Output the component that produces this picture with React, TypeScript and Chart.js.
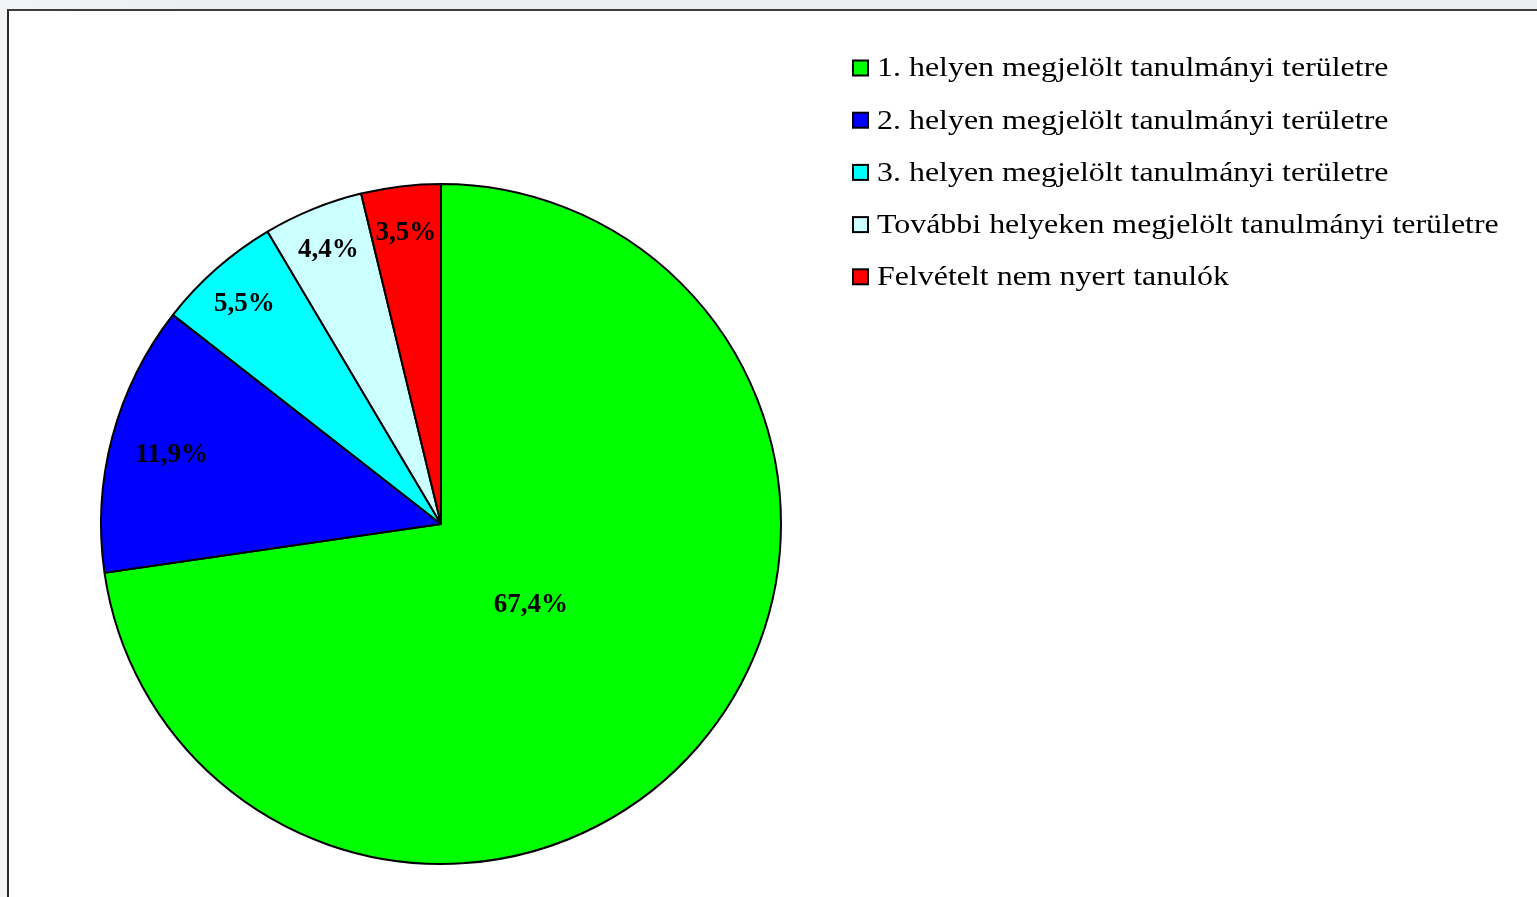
import React, { useEffect, useRef } from "react";
import { Chart, registerables } from "chart.js";

Chart.register(...registerables);

const categories = [
  "1. helyen megjelölt tanulmányi területre",
  "2. helyen megjelölt tanulmányi területre",
  "3. helyen megjelölt tanulmányi területre",
  "További helyeken megjelölt tanulmányi területre",
  "Felvételt nem nyert tanulók",
];
const values = [67.4, 11.9, 5.5, 4.4, 3.5];
const valueLabels = ["67,4%", "11,9%", "5,5%", "4,4%", "3,5%"];
const colors = ["#00ff00", "#0000ff", "#00ffff", "#ccffff", "#ff0000"];
const labelRadiusFactor = [0.35, 0.82, 0.875, 0.88, 0.87];

const sliceLabelsPlugin = {
  id: "sliceLabels",
  afterDatasetsDraw(chart: any) {
    const ctx = chart.ctx;
    const meta = chart.getDatasetMeta(0);
    ctx.save();
    ctx.font = "bold 27px 'Liberation Serif', 'Times New Roman', serif";
    ctx.fillStyle = "#000";
    ctx.textAlign = "center";
    ctx.textBaseline = "middle";
    meta.data.forEach((arc: any, i: number) => {
      const { x, y, startAngle, endAngle, outerRadius } = arc.getProps(
        ["x", "y", "startAngle", "endAngle", "outerRadius"],
        true
      );
      const mid = (startAngle + endAngle) / 2;
      const r = outerRadius * labelRadiusFactor[i];
      ctx.fillText(valueLabels[i], x + Math.cos(mid) * r, y + Math.sin(mid) * r + 3);
    });
    ctx.restore();
  },
};

const legendPlugin = {
  id: "customLegend",
  afterDraw(chart: any) {
    const ctx = chart.ctx;
    const labels = chart.data.labels as string[];
    const bg = chart.data.datasets[0].backgroundColor as string[];
    const x0 = 844;
    const y0 = 57;
    const step = 52.2;
    const scaleX = 1.14;
    ctx.save();
    ctx.font = "28px 'Liberation Serif', 'Times New Roman', serif";
    ctx.textBaseline = "middle";
    ctx.textAlign = "left";
    labels.forEach((lab, i) => {
      const cy = y0 + i * step;
      ctx.fillStyle = bg[i];
      ctx.fillRect(x0, cy - 7.5, 15, 15);
      ctx.lineWidth = 2;
      ctx.strokeStyle = "#000";
      ctx.strokeRect(x0, cy - 7.5, 15, 15);
      ctx.save();
      ctx.translate(x0 + 24, cy + 1);
      ctx.scale(scaleX, 1);
      ctx.fillStyle = "#000";
      ctx.fillText(lab, 0, 0);
      ctx.restore();
    });
    ctx.restore();
  },
};

export default function App() {
  const ref = useRef<HTMLCanvasElement>(null);
  useEffect(() => {
    if (!ref.current) return;
    const chart = new Chart(ref.current, {
      type: "pie",
      data: {
        labels: categories,
        datasets: [
          {
            data: values,
            backgroundColor: colors,
            borderColor: "#000",
            borderWidth: 2,
          },
        ],
      },
      options: {
        responsive: false,
        animation: false,
        layout: { padding: { left: 91, top: 172, right: 755, bottom: 32 } },
        plugins: {
          legend: { display: false },
          tooltip: { enabled: false },
        },
      },
      plugins: [sliceLabelsPlugin, legendPlugin],
    });
    return () => chart.destroy();
  }, []);
  return (
    <div
      style={{
        position: "fixed",
        inset: 0,
        background: "linear-gradient(90deg, #f2f4f5 0%, #eceff1 12%, #eceff1 100%)",
        overflow: "hidden",
      }}
    >
      <div
        style={{
          position: "absolute",
          left: 7,
          top: 9,
          width: 1700,
          height: 1000,
          background: "#fff",
          borderTop: "2px solid #3c3c3c",
          borderLeft: "2px solid #2a2a2a",
        }}
      >
        <canvas
          ref={ref}
          width={1528}
          height={886}
          style={{ display: "block", width: 1528, height: 886 }}
        />
      </div>
    </div>
  );
}
